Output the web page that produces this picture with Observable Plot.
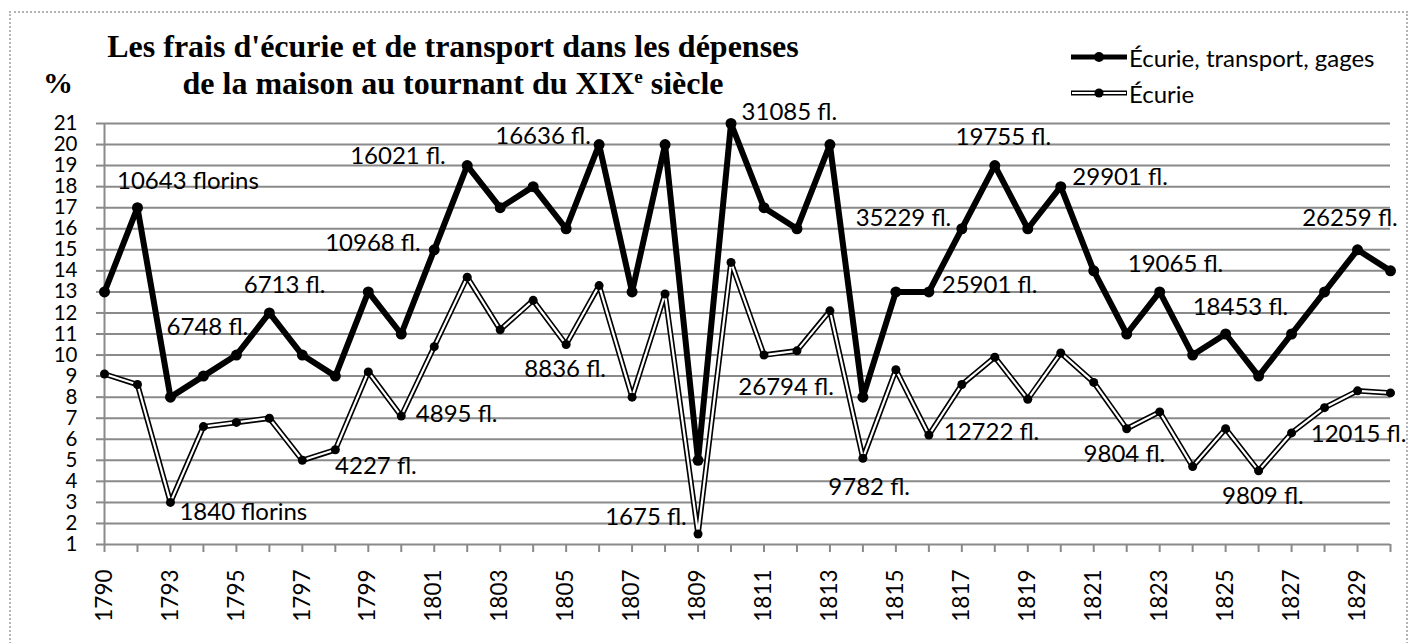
<!DOCTYPE html>
<html>
<head>
<meta charset="utf-8">
<script src="https://cdn.jsdelivr.net/npm/d3@7"></script>
<script src="https://cdn.jsdelivr.net/npm/@observablehq/plot@0.6"></script>
<style>
  html, body { margin: 0; padding: 0; background: #fff; }
  #wrap { position: relative; width: 1416px; height: 643px; overflow: hidden; background: #fff; }
  #border { position: absolute; left: 9px; top: 11px; width: 1399px; height: 700px; border: 2px dotted #b4b4b4; box-sizing: border-box; }
  #plot { position: absolute; left: 0; top: 0; }
  .title { position: absolute; left: 0; top: 28px; width: 906px; text-align: center;
           font-family: "Liberation Serif", "Times New Roman", serif; font-weight: bold; font-size: 32px; line-height: 37px; color: #000; }
  .title .sup { font-size: 0.6em; vertical-align: 0.55em; line-height: 0; }
  .pct { position: absolute; left: 43px; top: 68px; font-family: "Liberation Serif", serif; font-weight: bold; font-size: 30px; line-height: 30px; }
  .leg { position: absolute; left: 1071px; height: 30px; display: flex; align-items: center;
         font-family: Lato, sans-serif; font-size: 24px; color: #000; white-space: nowrap; }
  .leg svg { display: block; margin-right: 1px; }
</style>
</head>
<body>
<div id="wrap">
  <div id="border"></div>
  <div id="plot"></div>
  <div class="pct">%</div>
  <div class="title">Les frais d'écurie et de transport dans les dépenses<br>de la maison au tournant du XIX<span class="sup">e</span> siècle</div>
  <div class="leg" style="top:42px">
    <svg width="57" height="14"><line x1="0" y1="7" x2="56" y2="7" stroke="#000" stroke-width="5"/><circle cx="28" cy="7" r="5" fill="#000"/></svg>
    <span id="leg1"></span>
  </div>
  <div class="leg" style="top:78px">
    <svg width="57" height="14"><line x1="0" y1="7" x2="56" y2="7" stroke="#000" stroke-width="5"/><line x1="1" y1="7" x2="55" y2="7" stroke="#fff" stroke-width="2"/><circle cx="28" cy="7" r="4.5" fill="#000"/></svg>
    <span id="leg2"></span>
  </div>
</div>
<script>
// ---- data ----
const years = ["1790","1791","1793","1794","1795","1796","1797","1798","1799","1800",
  "1801","1802","1803","1804","1805","1806","1807","1808","1809","1810",
  "1811","1812","1813","1814","1815","1816","1817","1818","1819","1820",
  "1821","1822","1823","1824","1825","1826","1827","1828","1829","1830"];

const seriesNames = ["Écurie, transport, gages", "Écurie"];

const totalValues = [13, 17, 8, 9, 10, 12, 10, 9, 13, 11,
  15, 19, 17, 18, 16, 20, 13, 20, 5, 21,
  17, 16, 20, 8, 13, 13, 16, 19, 16, 18,
  14, 11, 13, 10, 11, 9, 11, 13, 15, 14];

const stableValues = [9.1, 8.6, 3.0, 6.6, 6.8, 7.0, 5.0, 5.5, 9.2, 7.1,
  10.4, 13.7, 11.2, 12.6, 10.5, 13.3, 8.0, 12.9, 1.5, 14.4,
  10.0, 10.2, 12.1, 5.1, 9.3, 6.2, 8.6, 9.9, 7.9, 10.1,
  8.7, 6.5, 7.3, 4.7, 6.5, 4.5, 6.3, 7.5, 8.3, 8.2];

const yTicks = [1,2,3,4,5,6,7,8,9,10,11,12,13,14,15,16,17,18,19,20,21];

// annotation labels: text, position along the category axis (index), position in % units
const annTexts = ["10643 florins","6748 fl.","6713 fl.","1840 florins","16021 fl.","16636 fl.",
  "10968 fl.","8836 fl.","4895 fl.","4227 fl.","1675 fl.","31085 fl.","19755 fl.",
  "35229 fl.","25901 fl.","26794 fl.","12722 fl.","9782 fl.","29901 fl.","19065 fl.",
  "18453 fl.","26259 fl.","9804 fl.","9809 fl.","12015 fl."];
const annX = [2.53, 3.12, 5.46, 4.21, 8.90, 13.30,
  8.14, 13.97, 10.68, 8.23, 16.42, 20.77, 27.26,
  24.23, 26.84, 20.67, 26.90, 23.19, 30.80, 32.48,
  34.45, 37.77, 30.93, 35.13, 38.03];
const annY = [18.27, 11.34, 13.31, 2.52, 19.43, 20.38,
  15.33, 9.33, 7.19, 4.71, 2.29, 21.52, 20.33,
  16.48, 13.29, 8.48, 6.33, 3.71, 18.43, 14.33,
  12.29, 16.48, 5.29, 3.29, 6.24];

// ---- build tables ----
const total = years.map((yr, i) => ({i, year: yr, v: totalValues[i]}));
const stable = years.map((yr, i) => ({i, year: yr, v: stableValues[i]}));
const ann = annTexts.map((t, k) => ({t, x: annX[k], y: annY[k]}));
const xIdx = years.map((_, i) => i);

document.getElementById("leg1").textContent = seriesNames[0];
document.getElementById("leg2").textContent = seriesNames[1];

const GRID = "#8a8a8a";

const chart = Plot.plot({
  width: 1416,
  height: 643,
  marginLeft: 104,
  marginRight: 26,
  marginTop: 123,
  marginBottom: 99,
  x: {type: "linear", domain: [0, years.length - 1]},
  y: {domain: [1, 21]},
  style: {fontFamily: "Lato, sans-serif", fontSize: "20px", color: "black", background: "transparent", overflow: "visible"},
  marks: [
    Plot.ruleY(yTicks, {stroke: GRID, strokeWidth: 2}),
    Plot.ruleX([0], {y1: 1, y2: 21, stroke: GRID, strokeWidth: 2}),
    Plot.axisY({ticks: yTicks, tickSize: 8, tickPadding: 19, stroke: GRID, strokeWidth: 2, fill: "black", label: null, fontSize: 20.5}),
    Plot.axisX({ticks: xIdx, tickSize: 8, tickPadding: 17, tickRotate: -90,
      tickFormat: (i) => (i % 2 === 0 ? years[i] : ""),
      stroke: GRID, strokeWidth: 2, fill: "black", label: null, fontSize: 22.5}),
    Plot.line(total, {x: "i", y: "v", stroke: "black", strokeWidth: 6}),
    Plot.dot(total, {x: "i", y: "v", r: 5.5, fill: "black"}),
    Plot.line(stable, {x: "i", y: "v", stroke: "black", strokeWidth: 5.5}),
    Plot.line(stable, {x: "i", y: "v", stroke: "white", strokeWidth: 2.2}),
    Plot.dot(stable, {x: "i", y: "v", r: 4.5, fill: "black"}),
    Plot.text(ann, {x: "x", y: "y", text: "t", fontSize: 24, fill: "black", textAnchor: "middle"})
  ]
});
document.getElementById("plot").appendChild(chart);
</script>
</body>
</html>
